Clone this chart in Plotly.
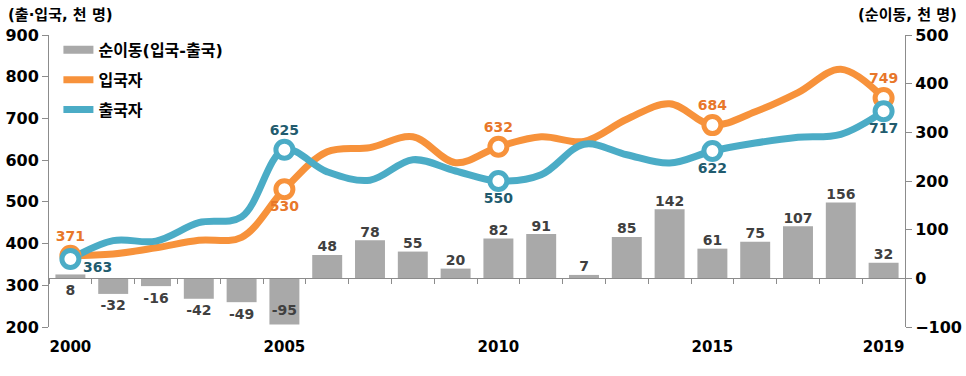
import plotly.graph_objects as go

years = list(range(2000, 2020))
entry = [371, 375, 390, 408, 415, 530, 620, 630, 656, 594, 632, 656, 645, 698, 735, 684, 716, 762, 818, 749]
exits = [363, 407, 406, 450, 464, 625, 572, 552, 601, 574, 550, 565, 638, 613, 593, 622, 641, 655, 662, 717]
net = [8, -32, -16, -42, -49, -95, 48, 78, 55, 20, 82, 91, 7, 85, 142, 61, 75, 107, 156, 32]
label_years = [2000, 2005, 2010, 2015, 2019]
tick_years = [2000, 2005, 2010, 2015, 2019]

name_net = "순이동(입국-출국)"
name_entry = "입국자"
name_exit = "출국자"
title_left = "(출·입국, 천 명)"
title_right = "(순이동, 천 명)"

ORANGE = "#F7923B"
BLUE = "#4BACC6"
ORANGE_TXT = "#E8772A"
BLUE_TXT = "#215B6E"
GRAY_BAR = "#A9A9A9"
AXIS = "#8C8C8C"
FONT = "DejaVu Sans, Noto Sans CJK KR, sans-serif"

left_range = [200, 900]
right_range = [-100, 500]
x_range = [years[0] - 0.5, years[-1] + 0.5]
span_r = right_range[1] - right_range[0]

fig = go.Figure()

# net migration bars (right axis)
fig.add_trace(go.Bar(
    x=years, y=net, name=name_net, marker_color=GRAY_BAR, marker_line_width=0,
    xaxis="x2", yaxis="y2", showlegend=False, hoverinfo="skip",
))
# legend proxy for the bars (wide swatch)
fig.add_trace(go.Scatter(
    x=[None], y=[None], name=name_net, mode="lines",
    line=dict(color=GRAY_BAR, width=8), legendgroup="a", hoverinfo="skip",
))
# bar labels
bar_pos, bar_y, bar_msize = [], [], []
for i, v in enumerate(net):
    if i == 0:
        bar_pos.append("bottom center"); bar_y.append(0); bar_msize.append(8)
    elif v > 0:
        bar_pos.append("top center"); bar_y.append(v); bar_msize.append(0)
    elif (v - right_range[0]) < 0.05 * span_r:
        bar_pos.append("top center"); bar_y.append(v); bar_msize.append(8)
    else:
        bar_pos.append("bottom center"); bar_y.append(v); bar_msize.append(8)
fig.add_trace(go.Scatter(
    x=years, y=bar_y, mode="markers+text", text=[str(v) for v in net], textposition=bar_pos,
    marker=dict(size=bar_msize, color=GRAY_BAR, opacity=0),
    textfont=dict(size=14, color="#404040", family=FONT, weight="bold"),
    xaxis="x2", yaxis="y2", showlegend=False, cliponaxis=False, hoverinfo="skip",
))

# lines
fig.add_trace(go.Scatter(
    x=years, y=entry, name=name_entry, mode="lines",
    line=dict(color=ORANGE, width=7, shape="spline", smoothing=1.0),
    legendgroup="b", hoverinfo="skip",
))
fig.add_trace(go.Scatter(
    x=years, y=exits, name=name_exit, mode="lines",
    line=dict(color=BLUE, width=7, shape="spline", smoothing=1.0),
    legendgroup="c", hoverinfo="skip",
))

# highlighted markers with labels
idx = [years.index(y) for y in label_years]
entry_pos = ["top center", "bottom center", "top center", "top center", "top center"]
exit_pos = ["bottom right", "top center", "bottom center", "bottom center", "bottom center"]
exit_txt = [str(exits[i]) for i in idx]
exit_txt[0] = ""  # first label drawn as an offset annotation below
fig.add_trace(go.Scatter(
    x=[years[i] for i in idx], y=[entry[i] for i in idx], mode="markers+text",
    text=[str(entry[i]) for i in idx], textposition=entry_pos,
    marker=dict(size=17, color="white", line=dict(color=ORANGE, width=5)),
    textfont=dict(size=14, color=ORANGE_TXT, family=FONT, weight="bold"),
    showlegend=False, cliponaxis=False, hoverinfo="skip",
))
fig.add_trace(go.Scatter(
    x=[years[i] for i in idx], y=[exits[i] for i in idx], mode="markers+text",
    text=exit_txt, textposition=exit_pos,
    marker=dict(size=17, color="white", line=dict(color=BLUE, width=5)),
    textfont=dict(size=14, color=BLUE_TXT, family=FONT, weight="bold"),
    showlegend=False, cliponaxis=False, hoverinfo="skip",
))

zero_pos = (0 - right_range[0]) / span_r

fig.update_layout(
    width=966, height=376,
    margin=dict(l=49, r=61, t=35, b=49, autoexpand=False),
    paper_bgcolor="white", plot_bgcolor="white",
    font=dict(family=FONT, size=15, color="black"),
    bargap=0.3,
    showlegend=True,
    legend=dict(
        x=0.011, y=1.007, xanchor="left", yanchor="top",
        font=dict(size=16, family=FONT, weight="bold", color="black"),
        tracegroupgap=6, bgcolor="rgba(0,0,0,0)",
    ),
    xaxis=dict(
        range=x_range, tickvals=tick_years, ticktext=[str(y) for y in tick_years],
        showline=False, showgrid=False, zeroline=False, automargin=False,
        ticks="outside", ticklen=6, tickcolor="rgba(0,0,0,0)",
        tickfont=dict(size=15, family=FONT, weight="bold", color="black"),
        anchor="y",
    ),
    xaxis2=dict(
        range=x_range, overlaying="x", anchor="free", position=zero_pos,
        tickmode="linear", tick0=x_range[0], dtick=1, automargin=False,
        ticks="outside", ticklen=5, tickcolor=AXIS, tickwidth=1,
        showline=True, linecolor=AXIS, linewidth=1,
        showticklabels=False, showgrid=False, zeroline=False,
    ),
    yaxis=dict(
        range=left_range, dtick=100, showline=True, linecolor=AXIS, linewidth=1,
        ticks="outside", ticklen=6, tickcolor=AXIS, showgrid=False, zeroline=False,
        automargin=False,
        tickfont=dict(size=16, family=FONT, weight="bold", color="black"),
    ),
    yaxis2=dict(
        range=right_range, dtick=100, overlaying="y", side="right", anchor="x",
        showline=True, linecolor=AXIS, linewidth=1, automargin=False,
        ticks="outside", ticklen=6, tickcolor=AXIS, showgrid=False, zeroline=False,
        tickfont=dict(size=16, family=FONT, weight="bold", color="black"),
    ),
    annotations=[
        dict(text=title_left, xref="paper", yref="paper", x=-0.05, y=1.07,
             xanchor="left", yanchor="middle", showarrow=False,
             font=dict(size=15, family=FONT, weight="bold", color="black")),
        dict(text=title_right, xref="paper", yref="paper", x=1.063, y=1.07,
             xanchor="right", yanchor="middle", showarrow=False,
             font=dict(size=15, family=FONT, weight="bold", color="black")),
        dict(text=str(exits[idx[0]]), x=years[idx[0]], y=exits[idx[0]], xref="x", yref="y",
             xanchor="left", yanchor="middle", xshift=11, yshift=-8, showarrow=False,
             font=dict(size=14, family=FONT, weight="bold", color=BLUE_TXT)),
    ],
)

fig.write_html("out.html", config={"displayModeBar": False},
               post_script="document.body.style.margin='0';")
